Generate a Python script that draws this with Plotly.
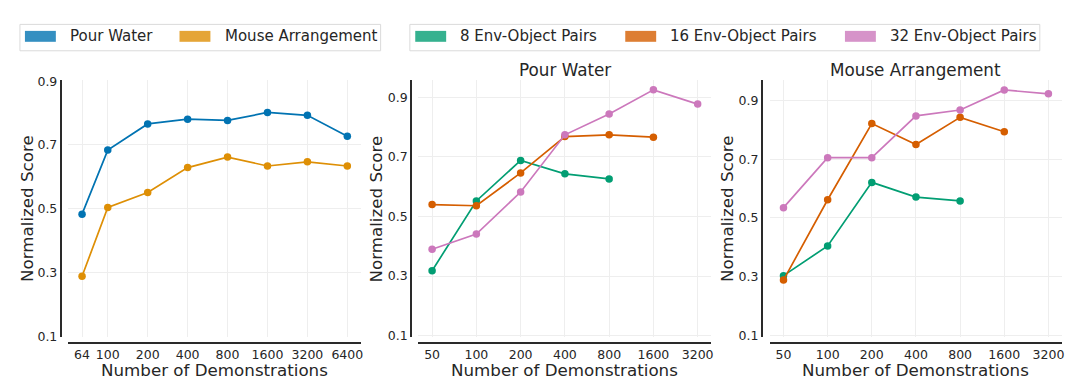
import plotly.graph_objects as go

# ---------------- data ----------------
demos_left = [64, 100, 200, 400, 800, 1600, 3200, 6400]
pour_water = [0.483, 0.684, 0.766, 0.781, 0.777, 0.802, 0.793, 0.727]
mouse_arrangement = [0.288, 0.504, 0.551, 0.629, 0.662, 0.634, 0.647, 0.634]

demos_right = [50, 100, 200, 400, 800, 1600, 3200]
pw_8 = [0.318, 0.552, 0.688, 0.643, 0.626]
pw_16 = [0.540, 0.536, 0.646, 0.768, 0.774, 0.766]
pw_32 = [0.390, 0.441, 0.582, 0.774, 0.844, 0.925, 0.877]
ma_8 = [0.304, 0.405, 0.621, 0.571, 0.558]
ma_16 = [0.289, 0.562, 0.821, 0.750, 0.842, 0.793]
ma_32 = [0.535, 0.705, 0.705, 0.847, 0.867, 0.935, 0.922]

y_ticks = [0.1, 0.3, 0.5, 0.7, 0.9]
legend_left = ["Pour Water", "Mouse Arrangement"]
legend_right = ["8 Env-Object Pairs", "16 Env-Object Pairs", "32 Env-Object Pairs"]
panel_titles = ["Pour Water", "Mouse Arrangement"]

# ---------------- style ----------------
W, H = 1080, 391
FONT = "DejaVu Sans"
TXT = "#262626"
C_BLUE, C_ORANGE = "#0173B2", "#DE8F05"
C_GREEN, C_RED, C_PINK = "#029E73", "#D55E00", "#CC78BC"
GRID = "#eeeeee"
SPINE = "#2a2a2a"


def px(x):
    return x / W


def py(y):
    return (H - y) / H


fig = go.Figure()


def add_series(x, y, color, xa, ya):
    fig.add_trace(go.Scatter(
        x=x, y=y, mode="lines+markers", xaxis=xa, yaxis=ya,
        line=dict(color=color, width=1.7),
        marker=dict(color=color, size=7.5),
        showlegend=False, hoverinfo="skip"))


add_series(demos_left, pour_water, C_BLUE, "x", "y")
add_series(demos_left, mouse_arrangement, C_ORANGE, "x", "y")
for s, c in zip([pw_8, pw_16, pw_32], [C_GREEN, C_RED, C_PINK]):
    add_series(demos_right[:len(s)], s, c, "x2", "y2")
for s, c in zip([ma_8, ma_16, ma_32], [C_GREEN, C_RED, C_PINK]):
    add_series(demos_right[:len(s)], s, c, "x3", "y3")


def xaxis(domain, ticks, rng):
    return dict(
        type="log", domain=domain, range=rng, anchor="free", position=py(347.3),
        tickvals=ticks, ticktext=[str(t) for t in ticks], ticks="",
        showline=True, linecolor=SPINE, linewidth=2,
        showgrid=True, gridcolor=GRID, gridwidth=1, zeroline=False,
        tickfont=dict(family=FONT, size=12.5, color=TXT), fixedrange=True)


def yaxis(pos, rng):
    return dict(
        domain=[py(341.5), py(75.8)], range=rng, anchor="free", position=pos,
        tickvals=y_ticks, ticktext=[f"{t:.1f}" for t in y_ticks], ticks="",
        showline=True, linecolor=SPINE, linewidth=2,
        showgrid=True, gridcolor=GRID, gridwidth=1, zeroline=False,
        tickfont=dict(family=FONT, size=12.5, color=TXT), fixedrange=True)


fig.update_layout(
    width=W, height=H, margin=dict(l=0, r=0, t=0, b=0),
    paper_bgcolor="white", plot_bgcolor="white", showlegend=False,
    xaxis=xaxis([px(68.3), px(361.7)], demos_left, [1.701, 3.907]),
    xaxis2=xaxis([px(419.3), px(713.3)], demos_right, [1.604, 3.598]),
    xaxis3=xaxis([px(771.7), px(1065)], demos_right, [1.604, 3.598]),
    yaxis=yaxis(px(61), [0.097, 0.903]),
    yaxis2=yaxis(px(412.3), [0.095, 0.957]),
    yaxis3=yaxis(px(764), [0.095, 0.968]),
)

ann = []
shapes = []


def text(x, y, s, size, angle=0, xanchor="center"):
    ann.append(dict(x=px(x), y=py(y), xref="paper", yref="paper", text=s,
                    showarrow=False, textangle=angle, xanchor=xanchor, yanchor="middle",
                    font=dict(family=FONT, size=size, color=TXT)))


# axis titles
for cx in [(68.3 + 361.7) / 2, (419.3 + 713.3) / 2, (771.7 + 1065) / 2]:
    text(cx, 375, "Number of Demonstrations", 16.7)
for cx in [26.5, 377, 728.5]:
    text(cx, 208.5, "Normalized Score", 16.7, angle=-90)
# panel titles
text((419.3 + 713.3) / 2, 65.5, panel_titles[0], 16.8)
text((771.7 + 1065) / 2, 65.5, panel_titles[1], 16.8)


def legend_box(x0, x1):
    shapes.append(dict(type="rect", xref="paper", yref="paper",
                       x0=px(x0), x1=px(x1), y0=py(45.3), y1=py(18),
                       line=dict(color="#dadada", width=1), fillcolor="white"))


def legend_item(x, label, color):
    shapes.append(dict(type="rect", xref="paper", yref="paper",
                       x0=px(x), x1=px(x + 31), y0=py(36), y1=py(24.7),
                       line=dict(width=0), fillcolor=color, opacity=0.8))
    text(x + 43.3, 30.4, label, 15, xanchor="left")


legend_box(20, 381.7)
legend_item(25, legend_left[0], C_BLUE)
legend_item(180, legend_left[1], C_ORANGE)

legend_box(411, 1042.7)
legend_item(416.4, legend_right[0], C_GREEN)
legend_item(627, legend_right[1], C_RED)
legend_item(847.3, legend_right[2], C_PINK)

fig.update_layout(annotations=ann, shapes=shapes)

fig.write_html("out.html", config={"displayModeBar": False},
               post_script="document.body.style.margin='0px';")
